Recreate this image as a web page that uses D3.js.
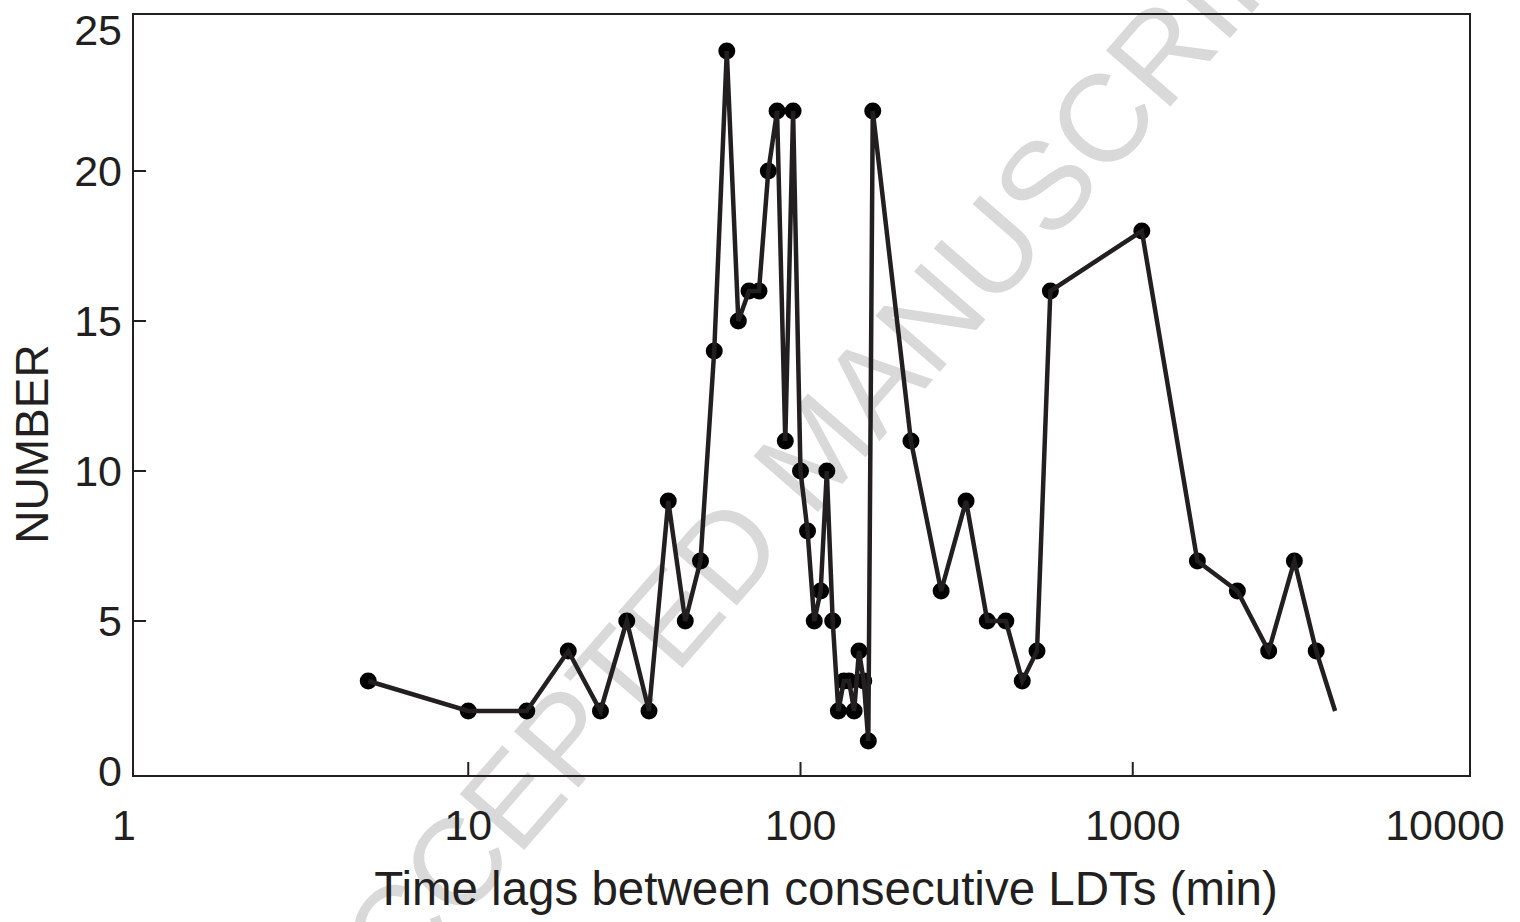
<!DOCTYPE html>
<html>
<head>
<meta charset="utf-8">
<script src="https://cdn.jsdelivr.net/npm/d3@7"></script>
<style>
  body { margin: 0; background: #fff; }
  text { font-family: "Liberation Sans", Arial, Helvetica, sans-serif; fill: #231f20; }
</style>
</head>
<body>
<svg id="chart" width="1520" height="922"></svg>
<script>
// time lag bins (min) and how many LDT pairs fall in each
const lags = [5, 10, 15, 20, 25, 30, 35, 40, 45, 50, 55, 60, 65, 70, 75, 80, 85, 90, 95, 100,
  105, 110, 115, 120, 125, 130, 135, 140, 145, 150, 155, 160, 165,
  215, 265, 315, 365, 415, 465, 515, 565,
  1065, 1565, 2065, 2565, 3065, 3565, 4065];
const counts = [3, 2, 2, 4, 2, 5, 2, 9, 5, 7, 14, 24, 15, 16, 16, 20, 22, 11, 22, 10,
  8, 5, 6, 10, 5, 2, 3, 3, 2, 4, 3, 1, 22,
  11, 6, 9, 5, 5, 3, 4, 16,
  18, 7, 6, 4, 7, 4, 2];
const xTicks = [1, 10, 100, 1000, 10000];
const yTicks = [0, 5, 10, 15, 20, 25];

const data = lags.map((d, i) => ({lag: d, n: counts[i]}));

const svg = d3.select('#chart');
const ink = '#231f20';
const frame = {left: 133, right: 1470, top: 14, bottom: 776};

const x = d3.scaleLog().domain([1, 10000]).range([136, 1465]);
const y = d3.scaleLinear().domain([0, 25]).range([771, 21]);

// watermark
svg.append('text')
  .attr('transform', 'translate(815,450) rotate(-49)')
  .attr('text-anchor', 'middle')
  .attr('dominant-baseline', 'central')
  .style('fill', '#d9d9d9')
  .style('font-size', '124px')
  .text('ACCEPTED MANUSCRIPT');

// frame
svg.append('rect')
  .attr('x', frame.left).attr('y', frame.top)
  .attr('width', frame.right - frame.left)
  .attr('height', frame.bottom - frame.top)
  .attr('fill', 'none').attr('stroke', ink).attr('stroke-width', 2);

// inward ticks
svg.append('g').selectAll('line.xt')
  .data([10, 100, 1000])
  .enter().append('line')
  .attr('x1', x).attr('x2', x)
  .attr('y1', frame.bottom).attr('y2', frame.bottom - 14)
  .attr('stroke', ink).attr('stroke-width', 2);

svg.append('g').selectAll('line.yt')
  .data([5, 10, 15, 20])
  .enter().append('line')
  .attr('x1', frame.left).attr('x2', frame.left + 13)
  .attr('y1', y).attr('y2', y)
  .attr('stroke', ink).attr('stroke-width', 2);

// tick labels
svg.append('g').selectAll('text')
  .data(xTicks)
  .enter().append('text')
  .attr('x', (d, i) => x(d) + (i === 0 ? -12 : i === xTicks.length - 1 ? -20 : 0))
  .attr('y', 840)
  .attr('text-anchor', 'middle')
  .style('font-size', '43px')
  .text((d) => d);

svg.append('g').selectAll('text')
  .data(yTicks)
  .enter().append('text')
  .attr('x', 122)
  .attr('y', (d, i) => y(d) + (i === yTicks.length - 1 ? 9 : 0))
  .attr('dy', '0.36em')
  .attr('text-anchor', 'end')
  .style('font-size', '43px')
  .text((d) => d);

// axis titles
svg.append('text')
  .attr('x', 826).attr('y', 905)
  .attr('text-anchor', 'middle')
  .style('font-size', '47.5px')
  .text('Time lags between consecutive LDTs (min)');

svg.append('text')
  .attr('transform', 'translate(48,444) rotate(-90)')
  .attr('text-anchor', 'middle')
  .style('font-size', '46px')
  .text('NUMBER');

// markers (the last bin has no marker in the original)
svg.append('g').selectAll('circle')
  .data(data.slice(0, -1))
  .enter().append('circle')
  .attr('cx', (d) => x(d.lag))
  .attr('cy', (d) => y(d.n))
  .attr('r', 8.5)
  .attr('fill', '#000');

const line = d3.line().x((d) => x(d.lag)).y((d) => y(d.n));
svg.append('path')
  .datum(data)
  .attr('d', line)
  .attr('fill', 'none')
  .attr('stroke', ink)
  .attr('stroke-width', 4.5)
  .attr('stroke-linejoin', 'miter');
</script>
</body>
</html>
